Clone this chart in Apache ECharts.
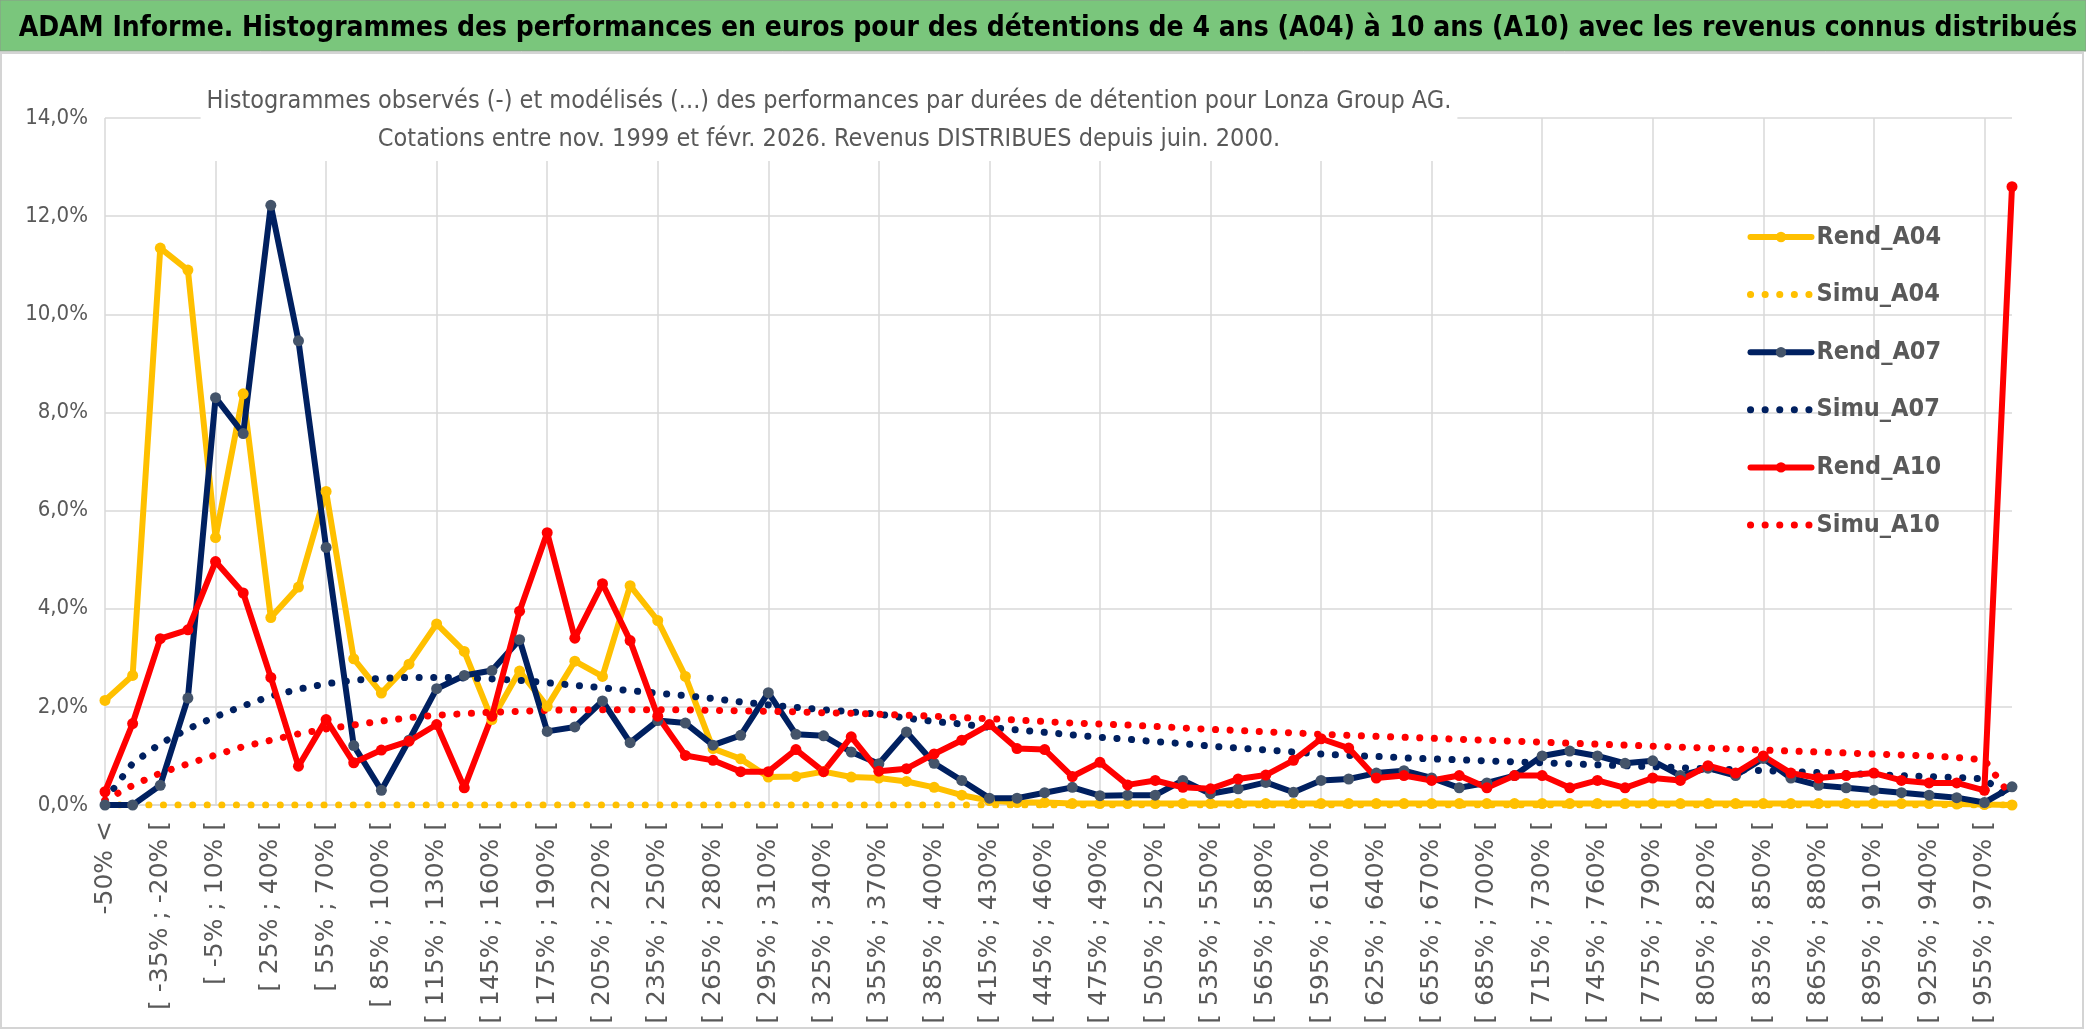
<!DOCTYPE html>
<html>
<head>
<meta charset="utf-8">
<script src="https://cdn.jsdelivr.net/npm/echarts@6/dist/echarts.min.js"></script>
<style>
html,body{margin:0;padding:0;background:#fff;}
#chart{width:2086px;height:1031px;}
</style>
</head>
<body>
<div id="chart"></div>
<script>
var categories = ["-50% <","[ -50% ; -35% [","[ -35% ; -20% [","[ -20% ; -5% [","[ -5% ; 10% [","[ 10% ; 25% [","[ 25% ; 40% [","[ 40% ; 55% [","[ 55% ; 70% [","[ 70% ; 85% [",
"[ 85% ; 100% [","[ 100% ; 115% [","[ 115% ; 130% [","[ 130% ; 145% [","[ 145% ; 160% [","[ 160% ; 175% [","[ 175% ; 190% [","[ 190% ; 205% [","[ 205% ; 220% [","[ 220% ; 235% [",
"[ 235% ; 250% [","[ 250% ; 265% [","[ 265% ; 280% [","[ 280% ; 295% [","[ 295% ; 310% [","[ 310% ; 325% [","[ 325% ; 340% [","[ 340% ; 355% [","[ 355% ; 370% [","[ 370% ; 385% [",
"[ 385% ; 400% [","[ 400% ; 415% [","[ 415% ; 430% [","[ 430% ; 445% [","[ 445% ; 460% [","[ 460% ; 475% [","[ 475% ; 490% [","[ 490% ; 505% [","[ 505% ; 520% [","[ 520% ; 535% [",
"[ 535% ; 550% [","[ 550% ; 565% [","[ 565% ; 580% [","[ 580% ; 595% [","[ 595% ; 610% [","[ 610% ; 625% [","[ 625% ; 640% [","[ 640% ; 655% [","[ 655% ; 670% [","[ 670% ; 685% [",
"[ 685% ; 700% [","[ 700% ; 715% [","[ 715% ; 730% [","[ 730% ; 745% [","[ 745% ; 760% [","[ 760% ; 775% [","[ 775% ; 790% [","[ 790% ; 805% [","[ 805% ; 820% [","[ 820% ; 835% [",
"[ 835% ; 850% [","[ 850% ; 865% [","[ 865% ; 880% [","[ 880% ; 895% [","[ 895% ; 910% [","[ 910% ; 925% [","[ 925% ; 940% [","[ 940% ; 955% [","[ 955% ; 970% [","970% >"];

var rendA04 = [2.13,2.64,11.35,10.9,5.45,8.38,3.82,4.44,6.39,2.98,
2.28,2.87,3.69,3.13,1.74,2.73,2.01,2.93,2.62,4.47,
3.76,2.62,1.15,0.94,0.57,0.58,0.68,0.57,0.55,0.48,
0.36,0.2,0.09,0.05,0.05,0.03,0.03,0.03,0.03,0.03,
0.03,0.03,0.03,0.03,0.03,0.03,0.03,0.03,0.03,0.03,
0.03,0.03,0.03,0.03,0.03,0.03,0.03,0.03,0.03,0.03,
0.03,0.03,0.03,0.03,0.03,0.03,0.03,0.02,0.01,0.0];

var simuA04 = [0,0,0,0,0,0,0,0,0,0,
0,0,0,0,0,0,0,0,0,0,
0,0,0,0,0,0,0,0,0,0,
0,0,0,0,0,0,0,0,0,0,
0,0,0,0,0,0,0,0,0,0,
0,0,0,0,0,0,0,0,0,0,
0,0,0,0,0,0,0,0,0,0];

var rendA07 = [0,0,0.4,2.18,8.3,7.57,12.22,9.46,5.25,1.21,
0.3,1.32,2.37,2.64,2.74,3.37,1.5,1.59,2.12,1.27,
1.72,1.67,1.22,1.42,2.29,1.44,1.41,1.08,0.84,1.49,
0.85,0.5,0.14,0.14,0.25,0.36,0.19,0.2,0.2,0.5,
0.23,0.33,0.46,0.26,0.5,0.53,0.65,0.7,0.55,0.35,
0.45,0.6,1.0,1.1,1.0,0.85,0.9,0.6,0.75,0.6,
0.95,0.55,0.4,0.35,0.3,0.25,0.2,0.15,0.05,0.37];

var simuA07 = [0.1,0.85,1.25,1.55,1.8,2.02,2.22,2.36,2.47,2.54,
2.58,2.6,2.6,2.59,2.57,2.54,2.49,2.44,2.39,2.33,
2.28,2.23,2.17,2.1,2.04,1.99,1.94,1.9,1.85,1.77,
1.7,1.65,1.58,1.53,1.48,1.43,1.38,1.34,1.29,1.25,
1.2,1.16,1.12,1.08,1.04,1.01,0.99,0.96,0.94,0.92,
0.9,0.88,0.86,0.84,0.82,0.8,0.78,0.76,0.74,0.72,
0.7,0.68,0.66,0.64,0.62,0.6,0.58,0.56,0.53,0.1];

var rendA10 = [0.27,1.66,3.39,3.57,4.96,4.32,2.6,0.79,1.74,0.86,
1.12,1.3,1.64,0.35,1.81,3.95,5.55,3.4,4.51,3.35,
1.81,1.01,0.91,0.68,0.68,1.13,0.68,1.39,0.69,0.74,
1.04,1.32,1.64,1.15,1.13,0.58,0.87,0.41,0.5,0.36,
0.33,0.53,0.61,0.91,1.35,1.16,0.55,0.6,0.5,0.6,
0.35,0.6,0.6,0.35,0.5,0.35,0.55,0.5,0.8,0.65,
1.0,0.65,0.55,0.6,0.65,0.5,0.45,0.45,0.3,12.6];

var simuA10 = [0.1,0.4,0.65,0.84,1.02,1.19,1.32,1.45,1.55,1.63,
1.71,1.78,1.83,1.86,1.89,1.91,1.93,1.94,1.94,1.94,
1.94,1.94,1.93,1.92,1.91,1.9,1.88,1.87,1.85,1.83,
1.81,1.78,1.76,1.73,1.7,1.67,1.65,1.63,1.6,1.57,
1.54,1.52,1.49,1.47,1.44,1.42,1.4,1.38,1.36,1.34,
1.32,1.3,1.28,1.26,1.24,1.22,1.2,1.18,1.16,1.14,
1.12,1.1,1.08,1.06,1.04,1.02,1.0,0.97,0.92,0.15];

var yTicks = [0, 2, 4, 6, 8, 10, 12, 14];

var mainTitle = "ADAM Informe. Histogrammes des performances en euros pour des détentions de 4 ans (A04) à 10 ans (A10) avec les revenus connus distribués";
var subTitle = "Histogrammes observés (-) et modélisés (...) des performances par durées de détention pour Lonza Group AG.\nCotations entre nov. 1999 et févr. 2026. Revenus DISTRIBUES depuis juin. 2000.";

var NARROW = "'DejaVu Sans Condensed','Liberation Sans',sans-serif";
var YELLOW = '#FFC000', NAVY = '#002060', RED = '#FF0000', SLATE = '#44546A';

function rend(name, data, lineColor, markColor) {
  return {
    name: name, type: 'line', data: data, smooth: false,
    symbol: 'circle', symbolSize: 11, showSymbol: true,
    lineStyle: {color: lineColor, width: 6, cap: 'round', join: 'round'},
    itemStyle: {color: markColor},
    emphasis: {disabled: true}, animation: false
  };
}
function simu(name, data, color) {
  return {
    name: name, type: 'line', data: data, smooth: false,
    symbol: 'none', showSymbol: false,
    lineStyle: {color: color, width: 7, type: [0.1, 14.5], cap: 'round'},
    itemStyle: {color: color},
    emphasis: {disabled: true}, animation: false
  };
}

var chart = echarts.init(document.getElementById('chart'), null, {renderer: 'canvas'});
chart.setOption({
  animation: false,
  backgroundColor: '#ffffff',
  graphic: [
    {type: 'rect', z: -10, shape: {x: 0, y: 0, width: 2086, height: 51}, style: {fill: '#7AC67C', stroke: '#8a9a8a', lineWidth: 1}},
    {type: 'rect', z: -10, shape: {x: 1, y: 53, width: 2082, height: 975}, style: {fill: 'none', stroke: '#d4d4d4', lineWidth: 2}}
  ],
  title: [
    {text: mainTitle, left: 1043, top: 10, textAlign: 'center',
     textStyle: {fontFamily: NARROW, fontWeight: 'bold', fontSize: 28, color: '#000000'}},
    {text: subTitle, left: 823, top: 79, textAlign: 'center', backgroundColor: '#ffffff', padding: [3, 6, 3, 6],
     textStyle: {fontFamily: NARROW, fontWeight: 'normal', fontSize: 25, lineHeight: 38, color: '#595959', align: 'center'}}
  ],
  legend: {
    orient: 'vertical', left: 1742, top: 217,
    itemWidth: 61, itemHeight: 13, itemGap: 27.6,
    data: [
      {name: 'Rend_A04'},
      {name: 'Simu_A04', itemStyle: {opacity: 0}},
      {name: 'Rend_A07'},
      {name: 'Simu_A07', itemStyle: {opacity: 0}},
      {name: 'Rend_A10'},
      {name: 'Simu_A10', itemStyle: {opacity: 0}}
    ],
    lineStyle: {width: 'inherit'},
    textStyle: {fontFamily: NARROW, fontSize: 25, fontWeight: 'bold', lineHeight: 30, color: '#595959'},
    selectedMode: false
  },
  grid: {left: 105, right: 74, top: 118, bottom: 226, containLabel: false},
  xAxis: {
    type: 'category', data: categories, boundaryGap: false,
    axisLine: {show: true, lineStyle: {color: '#D9D9D9', width: 1.5}},
    axisTick: {show: false},
    axisLabel: {interval: 1, rotate: 90, margin: 16, fontFamily: "'DejaVu Sans',sans-serif", fontSize: 25, color: '#595959'},
    splitLine: {show: true, interval: 3, lineStyle: {color: '#D9D9D9', width: 1.5}}
  },
  yAxis: {
    type: 'value', min: 0, max: 14, interval: 2,
    axisLine: {show: false}, axisTick: {show: false},
    axisLabel: {margin: 17, fontFamily: NARROW, fontSize: 22, color: '#595959',
      formatter: function (v) { return v.toFixed(1).replace('.', ',') + '%'; }},
    splitLine: {show: true, lineStyle: {color: '#D9D9D9', width: 1.5}}
  },
  series: [
    rend('Rend_A04', rendA04, YELLOW, YELLOW),
    simu('Simu_A04', simuA04, YELLOW),
    rend('Rend_A07', rendA07, NAVY, SLATE),
    simu('Simu_A07', simuA07, NAVY),
    rend('Rend_A10', rendA10, RED, RED),
    simu('Simu_A10', simuA10, RED)
  ]
});
</script>
</body>
</html>
